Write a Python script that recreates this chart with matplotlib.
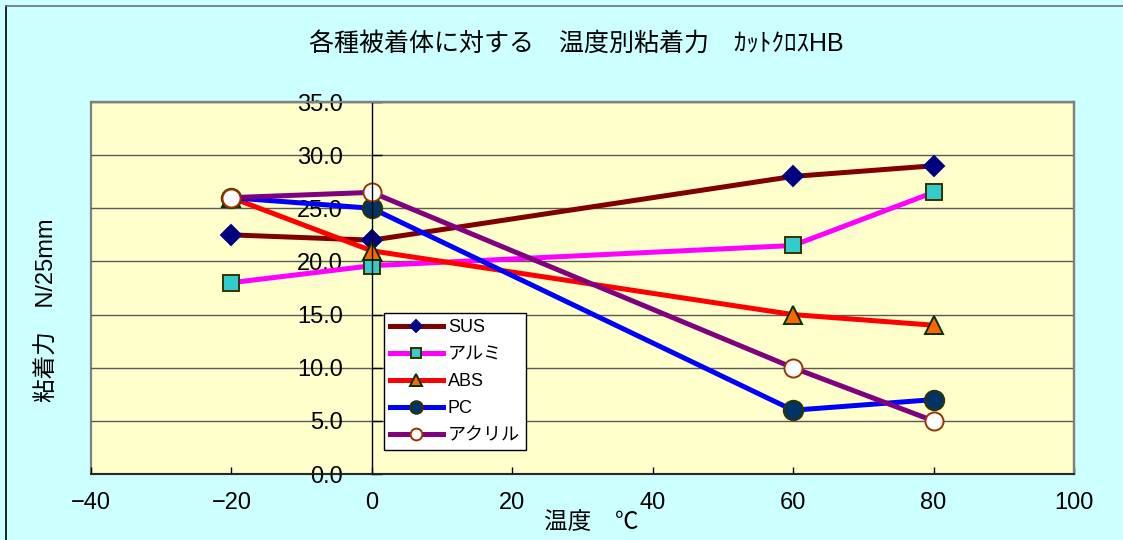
"""温度別粘着力チャート (カットクロスHB) の再現.

    python3 plot.py  ->  out.png
"""

import matplotlib

matplotlib.use("Agg")
import matplotlib.pyplot as plt
from matplotlib.lines import Line2D

plt.rcParams["font.family"] = ["Liberation Sans", "Noto Sans CJK JP"]

# --- data ---
TEMPS_C = [-20, 0, 60, 80]
SERIES_NAMES = ["SUS", "アルミ", "ABS", "PC", "アクリル"]
SUS = [22.5, 22.0, 28.0, 29.0]
ALUMI = [18.0, 19.6, 21.5, 26.5]
ABS = [26.0, 21.0, 15.0, 14.0]
PC = [26.0, 25.0, 6.0, 7.0]
ACRYL = [26.0, 26.5, 10.0, 5.0]
X_TICKS = [-40, -20, 0, 20, 40, 60, 80, 100]
Y_TICKS = [0, 5, 10, 15, 20, 25, 30, 35]

TITLE = "各種被着体に対する　温度別粘着力　ｶｯﾄｸﾛｽHB"
X_LABEL = "温度　℃"
Y_LABEL = "粘着力　N/25mm"

# --- styles ---
FIG_BG = "#CCFFFF"
PLOT_BG = "#FFFFCC"
STYLES = [
    dict(color="#800000", marker="D", ms=10, mfc="#000080", mec="#000080"),
    dict(color="#FF00FF", marker="s", ms=11, mfc="#33CCCC", mec="#333300"),
    dict(color="#FF0000", marker="^", ms=13, mfc="#FF6600", mec="#003300"),
    dict(color="#0000FF", marker="o", ms=14, mfc="#003366", mec="#333300"),
    dict(color="#800080", marker="o", ms=13, mfc="#FFFFFF", mec="#993300"),
]


def main() -> None:
    fig = plt.figure(figsize=(11.23, 5.40), dpi=100, facecolor=FIG_BG)
    ax = fig.add_axes([0.081, 0.1222, 0.8753, 0.6889])
    ax.set_facecolor(PLOT_BG)
    ax.patch.set_edgecolor("#808080")
    ax.patch.set_linewidth(1.6)

    for name, values, st in zip(SERIES_NAMES, [SUS, ALUMI, ABS, PC, ACRYL], STYLES):
        ax.plot(TEMPS_C, values, label=name, lw=3.6, mew=1.4, **st)

    ax.set_xlim(X_TICKS[0], X_TICKS[-1])
    ax.set_ylim(Y_TICKS[0], Y_TICKS[-1])
    ax.set_xticks(X_TICKS)
    ax.set_yticks(Y_TICKS)
    ax.set_yticklabels([f"{v:.1f}" for v in Y_TICKS])

    ax.set_axisbelow(True)
    ax.yaxis.grid(True, color="#5a5a5a", lw=1)

    # value axis crosses at 0 degC
    ax.spines["left"].set_position(("data", 0))
    ax.spines["left"].set_color("black")
    ax.spines["left"].set_linewidth(1)
    ax.spines["bottom"].set_color("#202020")
    ax.spines["bottom"].set_linewidth(1.3)
    for side in ("top", "right"):
        ax.spines[side].set_color("#808080")
        ax.spines[side].set_linewidth(1.6)

    ax.tick_params(axis="y", direction="in", length=7, width=1, pad=21, labelsize=17)
    ax.tick_params(axis="x", direction="in", length=5, width=1, pad=13, labelsize=17)

    ax.set_xlabel(X_LABEL, fontsize=17, va="center", ha="center")
    ax.xaxis.set_label_coords(0.5086, -0.132)
    ax.set_ylabel(Y_LABEL, fontsize=17, va="center", ha="center")
    ax.yaxis.set_label_coords(-0.044, 0.441)

    leg = ax.legend(
        loc="upper left",
        bbox_to_anchor=(0.298, 0.433),
        borderaxespad=0,
        fontsize=13,
        markerscale=0.65,
        handlelength=2.9,
        handletextpad=0.3,
        labelspacing=0.55,
        borderpad=0.35,
        fancybox=False,
        framealpha=1,
        edgecolor="black",
    )
    leg.get_frame().set_linewidth(1)

    fig.text(0.513, 0.9185, TITLE, fontsize=18, ha="center", va="center")

    # chart-area border (cut off on the right and bottom)
    fig.add_artist(Line2D([6 / 1123, 6 / 1123], [0, 1 - 6 / 540], color="black", lw=1.2))
    fig.add_artist(Line2D([6 / 1123, 1], [1 - 6 / 540, 1 - 6 / 540], color="#707070", lw=1.2))

    fig.savefig("out.png", dpi=100, facecolor=FIG_BG)
    plt.close(fig)


if __name__ == "__main__":
    main()
